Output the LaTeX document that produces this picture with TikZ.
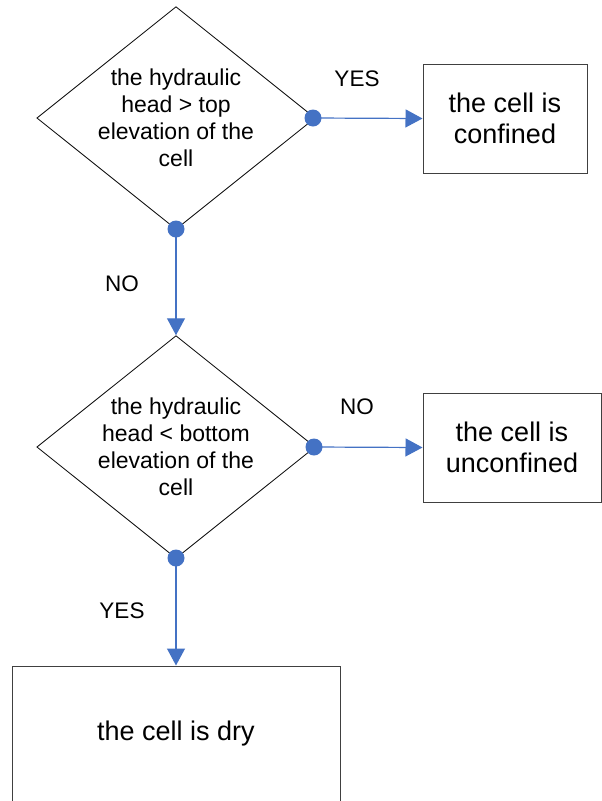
\documentclass[tikz,border=0pt]{standalone}
\usepackage{fontspec}
\setmainfont{Liberation Sans}
\usetikzlibrary{shapes.geometric,arrows.meta}
\definecolor{linkblue}{HTML}{4472C4}
\begin{document}
\begin{tikzpicture}[x=1pt,y=-1pt,
  decision/.style={diamond, draw=black, line width=0.8pt, inner sep=0pt, minimum width=270pt, minimum height=216pt, aspect=1.25, align=center, font=\fontsize{23}{27}\selectfont},
  outcome/.style={rectangle, draw=black!75, line width=1pt, inner sep=0pt, align=center, font=\fontsize{27}{31}\selectfont},
  flowline/.style={draw=linkblue, line width=1.2pt, -{Triangle[length=17pt,width=18pt]}},
  dotmark/.style={fill=linkblue},
  lbl/.style={font=\fontsize{22.5}{27}\selectfont, inner sep=0pt}]
\useasboundingbox (0,0) rectangle (602,801);
\clip (0,0) rectangle (602,801);
\node[decision] (dec1) at (176,118) {the hydraulic\\head > top\\elevation of the\\cell};
\node[decision] (dec2) at (176,447) {the hydraulic\\head < bottom\\elevation of the\\cell};
\node[outcome, minimum width=164pt, minimum height=109pt] (box1) at (505,118.5) {the cell is\\confined};
\node[outcome, minimum width=178pt, minimum height=109pt] (box2) at (512,447.5) {the cell is\\unconfined};
\node[outcome, minimum width=328pt, minimum height=136pt] (box3) at (176,734) {the cell is dry};
\coordinate (d1r) at (313,118);
\coordinate (d1b) at (176,229);
\coordinate (d2r) at (314,447);
\coordinate (d2b) at (176,558);
\draw[flowline] (d1r) -- (box1.west);
\draw[flowline] (d1b) -- (dec2.north);
\draw[flowline] (d2r) -- (box2.west);
\draw[flowline] (d2b) -- (box3.north);
\fill[dotmark] (d1r) circle (8.5pt);
\fill[dotmark] (d1b) circle (8.5pt);
\fill[dotmark] (d2r) circle (8.5pt);
\fill[dotmark] (d2b) circle (8.5pt);
\node[lbl] (yes1) at (357,79) {YES};
\node[lbl] (no1) at (357,407) {NO};
\node[lbl] (no2) at (122,284) {NO};
\node[lbl] (yes2) at (122,611) {YES};
\end{tikzpicture}
\end{document}
